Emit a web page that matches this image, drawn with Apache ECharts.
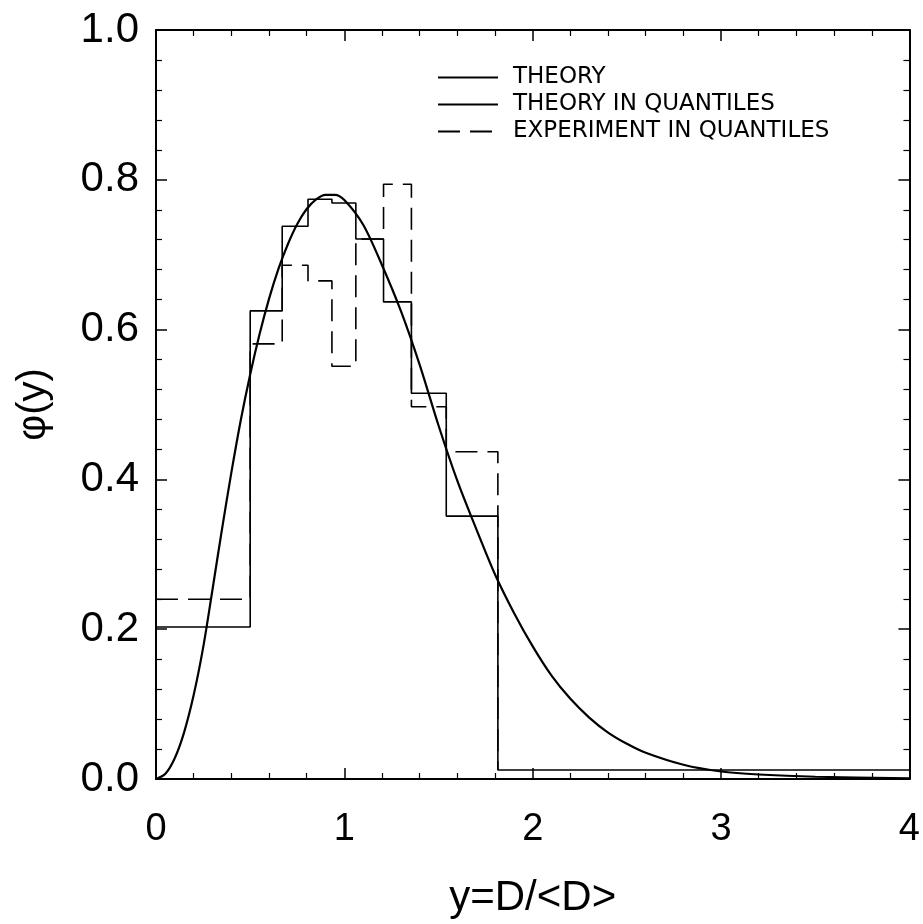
<!DOCTYPE html>
<html>
<head>
<meta charset="utf-8">
<script src="https://cdn.jsdelivr.net/npm/echarts@6/dist/echarts.min.js"></script>
<style>html,body{margin:0;padding:0;background:#fff;overflow:hidden;}#chart{width:923px;height:924px;}</style>
</head>
<body>
<div id="chart"></div>
<script>
// Theory curve (x, phi)
const theoryX = [0, 0.05, 0.10, 0.15, 0.20, 0.25, 0.30, 0.35, 0.40, 0.45, 0.50, 0.55, 0.60, 0.65, 0.70, 0.75, 0.80, 0.85, 0.90, 0.95, 1.00, 1.10, 1.20, 1.30, 1.40, 1.50, 1.60, 1.70, 1.80, 1.90, 2.00, 2.10, 2.20, 2.30, 2.40, 2.50, 2.60, 2.80, 3.00, 3.20, 3.50, 4.00];
const theoryY = [0, 0.007, 0.028, 0.063, 0.112, 0.175, 0.253, 0.333, 0.409, 0.479, 0.540, 0.594, 0.641, 0.681, 0.714, 0.741, 0.761, 0.774, 0.780, 0.780, 0.773, 0.740, 0.686, 0.625, 0.553, 0.472, 0.398, 0.334, 0.273, 0.222, 0.177, 0.138, 0.107, 0.082, 0.062, 0.047, 0.035, 0.019, 0.010, 0.006, 0.003, 0.001];

// Theory in quantiles: bin edges and bin values (last edge closes the histogram)
const theoryQEdges = [0, 0.5, 0.67, 0.807, 0.934, 1.061, 1.208, 1.356, 1.541, 1.815, 4.0];
const theoryQValues = [0.203, 0.625, 0.738, 0.774, 0.769, 0.721, 0.637, 0.515, 0.351, 0.012];

// Experiment in quantiles
const expQEdges = [0, 0.5, 0.67, 0.807, 0.934, 1.061, 1.208, 1.356, 1.541, 1.815];
const expQValues = [0.240, 0.581, 0.686, 0.665, 0.551, 0.721, 0.794, 0.497, 0.437, 0.012];

const xTicks = [0, 1, 2, 3, 4];
const yTicks = [0, 0.2, 0.4, 0.6, 0.8, 1.0];

function pairs(xs, ys) { return xs.map((x, i) => [x, ys[i]]); }
function stepPairs(edges, vals) {
  return edges.map((e, i) => [e, vals[Math.min(i, vals.length - 1)]]);
}

const chart = echarts.init(document.getElementById('chart'), null, {renderer: 'canvas', width: 923, height: 924});
const black = '#000';
function axisBase() {
  return {
    axisLine: {show: true, onZero: false, lineStyle: {color: black, width: 2}},
    axisTick: {show: true, inside: true, length: 11, lineStyle: {color: black, width: 1.5}},
    minorTick: {show: true, splitNumber: 5, length: 6, lineStyle: {color: black, width: 1.2}},
    splitLine: {show: false},
    minorSplitLine: {show: false}
  };
}

chart.setOption({
  animation: false,
  backgroundColor: '#fff',
  grid: {left: 156, top: 30, width: 757, height: 752},
  legend: {
    orient: 'vertical',
    left: 437, top: 65,
    itemWidth: 60, itemHeight: 12, itemGap: 2,
    padding: 0,
    itemStyle: {color: 'rgba(0,0,0,0)', borderColor: 'rgba(0,0,0,0)', borderWidth: 0, opacity: 0},
    textStyle: {fontSize: 23, fontFamily: 'DejaVu Sans', color: black, lineHeight: 25, padding: [0, 0, 0, 10]},
    data: ['THEORY', 'THEORY IN QUANTILES', 'EXPERIMENT IN QUANTILES']
  },
  xAxis: [
    Object.assign(axisBase(), {
      type: 'value', position: 'bottom', min: xTicks[0], max: xTicks[xTicks.length - 1], interval: 1,
      axisLabel: {fontSize: 38, fontFamily: 'Liberation Sans', color: black, margin: 32},
      name: 'y=D/<D>', nameLocation: 'middle', nameGap: 98,
      nameTextStyle: {fontSize: 42, fontFamily: 'Liberation Sans', color: black}
    }),
    Object.assign(axisBase(), {
      type: 'value', position: 'top', min: xTicks[0], max: xTicks[xTicks.length - 1], interval: 1,
      axisLabel: {show: false}
    })
  ],
  yAxis: [
    Object.assign(axisBase(), {
      type: 'value', position: 'left', min: yTicks[0], max: yTicks[yTicks.length - 1], interval: 0.2,
      axisLabel: {fontSize: 42, fontFamily: 'Liberation Sans', color: black, margin: 17,
        formatter: v => v.toFixed(1)},
      name: 'φ(y)', nameLocation: 'middle', nameGap: 102, nameRotate: 90,
      nameTextStyle: {fontSize: 40, fontFamily: 'Liberation Sans', color: black}
    }),
    Object.assign(axisBase(), {
      type: 'value', position: 'right', min: yTicks[0], max: yTicks[yTicks.length - 1], interval: 0.2,
      axisLabel: {show: false}
    })
  ],
  series: [
    {
      name: 'THEORY', type: 'line', xAxisIndex: 0, yAxisIndex: 0,
      data: pairs(theoryX, theoryY), smooth: 0.3, symbol: 'none',
      lineStyle: {color: black, width: 2.2}, itemStyle: {color: black}, z: 5
    },
    {
      name: 'THEORY IN QUANTILES', type: 'line', xAxisIndex: 0, yAxisIndex: 0,
      data: stepPairs(theoryQEdges, theoryQValues), step: 'end', symbol: 'none',
      lineStyle: {color: black, width: 1.6}, itemStyle: {color: black}, z: 4
    },
    {
      name: 'EXPERIMENT IN QUANTILES', type: 'line', xAxisIndex: 0, yAxisIndex: 0,
      data: stepPairs(expQEdges, expQValues), step: 'end', symbol: 'none',
      lineStyle: {color: black, width: 1.6, type: [22, 10]}, itemStyle: {color: black}, z: 3
    }
  ]
});
</script>
</body>
</html>
